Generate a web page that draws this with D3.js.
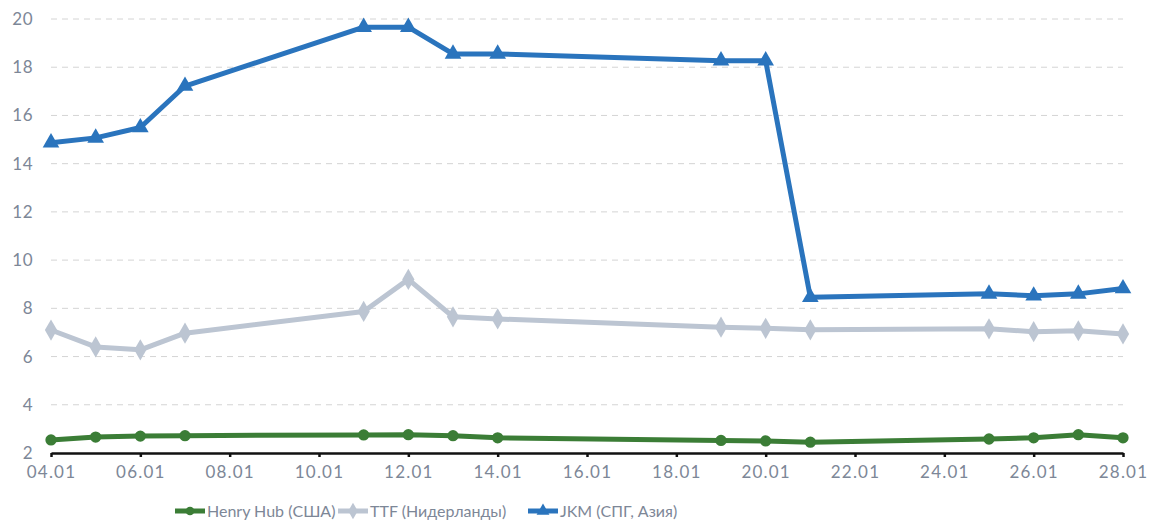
<!DOCTYPE html>
<html>
<head>
<meta charset="utf-8">
<script src="https://cdn.jsdelivr.net/npm/d3@7"></script>
<style>
  body { margin: 0; background: #fff; }
  text { font-family: Lato, "Open Sans", sans-serif; fill: #7d8797; }
</style>
</head>
<body>
<svg id="drawing_region"></svg>
<script>
// dates (day of January)
const days = [4, 5, 6, 7, 11, 12, 13, 14, 19, 20, 21, 25, 26, 27, 28];
const henryHub = [2.54, 2.66, 2.7, 2.72, 2.75, 2.76, 2.72, 2.63, 2.52, 2.5, 2.45, 2.58, 2.63, 2.76, 2.63];
const ttf = [7.1, 6.4, 6.28, 6.97, 7.87, 9.2, 7.65, 7.56, 7.22, 7.17, 7.11, 7.15, 7.03, 7.07, 6.94];
const jkm = [14.87, 15.07, 15.5, 17.22, 19.66, 19.66, 18.55, 18.55, 18.27, 18.27, 8.46, 8.6, 8.52, 8.6, 8.82];
const xTicks = [4, 6, 8, 10, 12, 14, 16, 18, 20, 22, 24, 26, 28];
const yTicks = [2, 4, 6, 8, 10, 12, 14, 16, 18, 20];

const seriesNames = ['Henry Hub (США)', 'TTF (Нидерланды)', 'JKM (СПГ, Азия)'];

const config = {
  width: 1152,
  height: 521,
  margin: { top: 19, right: 29, bottom: 68, left: 51 }
};

const series = [
  { name: seriesNames[0], values: henryHub, color: '#3b7d36', symbol: d3.symbolCircle, size: 100 },
  { name: seriesNames[1], values: ttf, color: '#bcc5d2', symbol: d3.symbolDiamond, size: 130 },
  { name: seriesNames[2], values: jkm, color: '#2a74bd', symbol: d3.symbolTriangle, size: 120 }
];

const svg = d3.select('#drawing_region')
  .attr('width', config.width)
  .attr('height', config.height);

const innerW = config.width - config.margin.left - config.margin.right;
const innerH = config.height - config.margin.top - config.margin.bottom;

const chart = svg.append('g')
  .attr('transform', `translate(${config.margin.left}, ${config.margin.top})`);

const xscale = d3.scaleLinear().domain([4, 28]).range([0, innerW]);
const yscale = d3.scaleLinear().domain([2, 20]).range([innerH, 0]);

// grid
chart.append('g')
  .selectAll('line')
  .data(yTicks.filter(d => d > 2))
  .join('line')
  .attr('x1', 0)
  .attr('x2', innerW)
  .attr('y1', d => yscale(d))
  .attr('y2', d => yscale(d))
  .attr('stroke', '#d4d4d4')
  .attr('stroke-width', 1)
  .attr('stroke-dasharray', '6,5');

// y axis labels
const yaxis = d3.axisLeft(yscale).tickValues(yTicks).tickSize(0).tickPadding(18);
const yaxis_group = chart.append('g').call(yaxis);
yaxis_group.select('.domain').remove();
yaxis_group.selectAll('text')
  .style('font-size', '17px')
  .style('letter-spacing', '0.5px')
  .attr('fill', '#7d8797');

// x axis
const xaxis = d3.axisBottom(xscale)
  .tickValues(xTicks)
  .tickSize(4)
  .tickSizeOuter(0)
  .tickPadding(9)
  .tickFormat(d => (d < 10 ? '0' + d : d) + '.01');
const xaxis_group = chart.append('g')
  .attr('transform', `translate(0, ${innerH})`)
  .call(xaxis);
xaxis_group.select('.domain').attr('stroke', '#111').attr('stroke-width', 2.5);
xaxis_group.selectAll('.tick line').attr('stroke', '#111').attr('stroke-width', 2.5);
xaxis_group.selectAll('text')
  .style('font-size', '17px')
  .style('letter-spacing', '1.2px')
  .attr('fill', '#7d8797');

// lines
const line = d3.line()
  .x((d, i) => xscale(days[i]))
  .y(d => yscale(d));

series.forEach(s => {
  const g = chart.append('g');
  g.append('path')
    .datum(s.values)
    .attr('fill', 'none')
    .attr('stroke', s.color)
    .attr('stroke-width', 5)
    .attr('stroke-linejoin', 'round')
    .attr('d', line);
  g.selectAll('path.marker')
    .data(s.values)
    .join('path')
    .attr('class', 'marker')
    .attr('transform', (d, i) => `translate(${xscale(days[i])}, ${yscale(d)})`)
    .attr('d', d3.symbol().type(s.symbol).size(s.size))
    .attr('fill', s.color);
});

// legend
const legendX = [175, 338, 528];
const legend = svg.append('g').attr('transform', 'translate(0, 511)');
series.forEach((s, i) => {
  const item = legend.append('g').attr('transform', `translate(${legendX[i]}, 0)`);
  item.append('line')
    .attr('x1', 0).attr('x2', 30)
    .attr('y1', 0).attr('y2', 0)
    .attr('stroke', s.color)
    .attr('stroke-width', 5);
  item.append('path')
    .attr('transform', 'translate(15, 0)')
    .attr('d', d3.symbol().type(s.symbol).size(s.size * 0.6))
    .attr('fill', s.color);
  item.append('text')
    .attr('x', 32)
    .attr('y', 0)
    .attr('dy', '0.35em')
    .style('font-size', '16px')
    .text(s.name);
});
</script>
</body>
</html>
